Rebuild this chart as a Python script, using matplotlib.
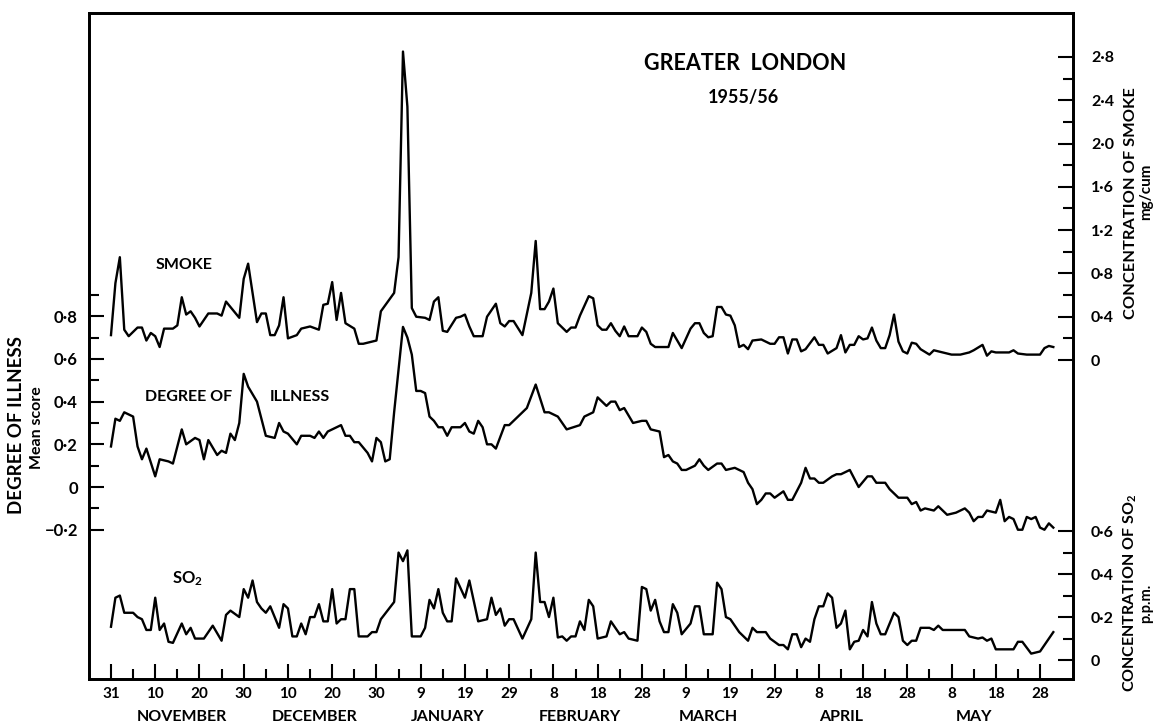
import matplotlib
matplotlib.use("Agg")
import matplotlib.pyplot as plt
from matplotlib.ticker import FixedLocator, FuncFormatter

# days counted from 31 October 1955
smoke_days = [0, 1, 2, 3, 4, 6, 7, 8, 9, 10, 11, 12, 14, 15, 16, 17, 18, 19, 20, 22,
              24, 25, 26, 29, 30, 31, 33, 34, 35, 36, 37, 38, 39, 40, 42, 43, 45, 47, 48, 49,
              50, 51, 52, 53, 55, 56, 57, 59, 60, 61, 64, 65, 66, 67, 68, 69, 71, 72, 73, 74,
              75, 76, 78, 79, 80, 81, 82, 84, 85, 87, 88, 89, 90, 91, 93, 95, 96, 97, 98, 99,
              100, 101, 103, 104, 105, 106, 108, 109, 110, 111, 112, 113, 114, 115, 116, 117, 119, 120, 121, 122,
              123, 126, 127, 129, 131, 132, 133, 134, 135, 136, 137, 138, 139, 140, 141, 142, 143, 144, 145, 147,
              149, 150, 151, 152, 153, 154, 155, 156, 157, 159, 160, 161, 162, 164, 165, 166, 167, 168, 169, 170,
              171, 172, 173, 174, 175, 176, 177, 178, 179, 180, 181, 182, 183, 185, 186, 188, 190, 192, 194, 195,
              197, 198, 199, 200, 203, 204, 205, 207, 210, 211, 212, 213]
smoke_mg = [0.23, 0.71, 0.95, 0.28, 0.22, 0.30, 0.30, 0.18, 0.25, 0.22, 0.12, 0.29, 0.29, 0.32, 0.58, 0.42, 0.45, 0.39, 0.31, 0.43,
            0.43, 0.41, 0.54, 0.39, 0.75, 0.89, 0.35, 0.43, 0.43, 0.23, 0.23, 0.32, 0.58, 0.20, 0.23, 0.29, 0.31, 0.28, 0.51, 0.52,
            0.72, 0.37, 0.62, 0.34, 0.29, 0.15, 0.15, 0.17, 0.18, 0.45, 0.62, 0.95, 2.85, 2.34, 0.48, 0.40, 0.39, 0.37, 0.54, 0.58,
            0.27, 0.26, 0.39, 0.40, 0.42, 0.31, 0.22, 0.22, 0.40, 0.52, 0.34, 0.31, 0.36, 0.36, 0.23, 0.62, 1.10, 0.47, 0.47, 0.54,
            0.66, 0.34, 0.26, 0.30, 0.30, 0.41, 0.59, 0.57, 0.32, 0.28, 0.28, 0.34, 0.27, 0.22, 0.31, 0.22, 0.22, 0.30, 0.26, 0.15,
            0.12, 0.12, 0.25, 0.11, 0.29, 0.34, 0.34, 0.25, 0.21, 0.22, 0.49, 0.49, 0.42, 0.41, 0.32, 0.12, 0.14, 0.10, 0.18, 0.19,
            0.15, 0.15, 0.21, 0.21, 0.06, 0.19, 0.19, 0.08, 0.10, 0.21, 0.14, 0.14, 0.06, 0.11, 0.23, 0.07, 0.14, 0.14, 0.22, 0.19,
            0.20, 0.30, 0.18, 0.11, 0.11, 0.23, 0.42, 0.17, 0.08, 0.06, 0.16, 0.15, 0.10, 0.05, 0.09, 0.07, 0.05, 0.05, 0.07, 0.09,
            0.14, 0.04, 0.08, 0.07, 0.07, 0.09, 0.06, 0.05, 0.05, 0.11, 0.13, 0.12]

illness_days = [0, 1, 2, 3, 4, 5, 6, 7, 8, 10, 11, 13, 14, 16, 17, 19, 20, 21, 22, 24,
                25, 26, 27, 28, 29, 30, 31, 33, 34, 35, 37, 38, 39, 40, 42, 43, 45, 46, 47, 48,
                49, 52, 53, 54, 55, 56, 58, 59, 60, 61, 62, 63, 64, 65, 66, 67, 68, 69, 70, 71,
                72, 73, 74, 75, 76, 77, 79, 80, 81, 82, 83, 84, 85, 86, 87, 89, 90, 91, 94, 96,
                98, 99, 101, 103, 106, 107, 109, 110, 112, 113, 114, 115, 116, 118, 120, 121, 122, 124, 125, 126,
                127, 128, 129, 130, 132, 133, 134, 135, 137, 138, 139, 141, 143, 144, 145, 146, 147, 148, 149, 150,
                152, 153, 154, 156, 157, 158, 159, 160, 161, 163, 164, 165, 166, 167, 169, 171, 172, 173, 175, 176,
                178, 180, 181, 182, 183, 184, 186, 187, 189, 191, 193, 194, 195, 196, 197, 198, 200, 201, 202, 203,
                204, 205, 206, 207, 208, 209, 210, 211, 212, 213]
illness_score = [0.19, 0.32, 0.31, 0.35, 0.34, 0.33, 0.19, 0.13, 0.18, 0.05, 0.13, 0.12, 0.11, 0.27, 0.20, 0.23, 0.22, 0.13, 0.22, 0.15,
                 0.17, 0.16, 0.25, 0.22, 0.30, 0.53, 0.47, 0.40, 0.32, 0.24, 0.23, 0.30, 0.26, 0.25, 0.20, 0.24, 0.24, 0.23, 0.26, 0.23,
                 0.26, 0.29, 0.24, 0.24, 0.21, 0.21, 0.16, 0.12, 0.23, 0.21, 0.12, 0.13, 0.35, 0.55, 0.75, 0.70, 0.62, 0.45, 0.45, 0.44,
                 0.33, 0.31, 0.28, 0.28, 0.24, 0.28, 0.28, 0.30, 0.26, 0.25, 0.31, 0.28, 0.20, 0.20, 0.18, 0.29, 0.29, 0.31, 0.37, 0.48,
                 0.35, 0.35, 0.33, 0.27, 0.29, 0.33, 0.35, 0.42, 0.38, 0.40, 0.40, 0.36, 0.37, 0.30, 0.31, 0.31, 0.27, 0.26, 0.14, 0.15,
                 0.12, 0.11, 0.08, 0.08, 0.10, 0.13, 0.10, 0.08, 0.11, 0.11, 0.08, 0.09, 0.07, 0.02, -0.01, -0.08, -0.06, -0.03, -0.03, -0.05,
                 -0.02, -0.06, -0.06, 0.02, 0.09, 0.04, 0.04, 0.02, 0.02, 0.05, 0.06, 0.06, 0.07, 0.08, 0.00, 0.05, 0.05, 0.02, 0.02, -0.01,
                 -0.05, -0.05, -0.08, -0.07, -0.11, -0.10, -0.11, -0.09, -0.13, -0.12, -0.10, -0.12, -0.16, -0.14, -0.14, -0.11, -0.12, -0.06, -0.16, -0.14,
                 -0.15, -0.20, -0.20, -0.14, -0.15, -0.14, -0.19, -0.20, -0.17, -0.19]

so2_days = [0, 1, 2, 3, 5, 6, 7, 8, 9, 10, 11, 12, 13, 14, 16, 17, 18, 19, 21, 23,
            25, 26, 27, 29, 30, 31, 32, 33, 34, 35, 36, 38, 39, 40, 41, 42, 43, 44, 45, 46,
            47, 48, 49, 50, 51, 52, 53, 54, 55, 56, 58, 59, 60, 61, 64, 65, 66, 67, 68, 70,
            71, 72, 73, 74, 75, 76, 77, 78, 80, 81, 83, 85, 86, 87, 88, 89, 90, 91, 93, 95,
            96, 97, 98, 99, 100, 101, 102, 103, 104, 105, 106, 107, 108, 109, 110, 112, 113, 115, 116, 117,
            119, 120, 121, 122, 123, 124, 125, 126, 127, 128, 129, 131, 132, 133, 134, 136, 137, 138, 139, 140,
            142, 144, 145, 146, 148, 149, 151, 152, 153, 154, 155, 156, 157, 158, 159, 160, 161, 162, 163, 164,
            165, 166, 167, 168, 169, 170, 171, 172, 173, 174, 175, 177, 178, 179, 180, 181, 182, 183, 184, 185,
            186, 187, 188, 190, 191, 193, 194, 196, 197, 198, 199, 200, 204, 205, 206, 208, 210, 213]
so2_ppm = [0.155, 0.29, 0.30, 0.22, 0.22, 0.20, 0.19, 0.14, 0.14, 0.29, 0.14, 0.17, 0.085, 0.08, 0.17, 0.12, 0.15, 0.10, 0.10, 0.16,
           0.09, 0.21, 0.23, 0.20, 0.33, 0.29, 0.37, 0.27, 0.24, 0.22, 0.25, 0.15, 0.26, 0.24, 0.11, 0.11, 0.17, 0.12, 0.20, 0.20,
           0.26, 0.18, 0.18, 0.33, 0.17, 0.19, 0.19, 0.33, 0.33, 0.11, 0.11, 0.13, 0.13, 0.19, 0.27, 0.50, 0.46, 0.51, 0.11, 0.11,
           0.15, 0.28, 0.24, 0.33, 0.22, 0.18, 0.18, 0.38, 0.29, 0.37, 0.18, 0.19, 0.29, 0.21, 0.24, 0.16, 0.19, 0.19, 0.10, 0.19,
           0.50, 0.27, 0.27, 0.20, 0.29, 0.105, 0.11, 0.09, 0.11, 0.11, 0.18, 0.14, 0.28, 0.25, 0.10, 0.11, 0.18, 0.12, 0.13, 0.10,
           0.09, 0.34, 0.33, 0.23, 0.28, 0.18, 0.13, 0.13, 0.26, 0.22, 0.12, 0.17, 0.25, 0.25, 0.12, 0.12, 0.36, 0.33, 0.20, 0.19,
           0.13, 0.09, 0.15, 0.13, 0.13, 0.10, 0.07, 0.07, 0.05, 0.12, 0.12, 0.06, 0.10, 0.085, 0.19, 0.25, 0.25, 0.31, 0.29, 0.15,
           0.17, 0.23, 0.05, 0.085, 0.09, 0.14, 0.11, 0.27, 0.17, 0.12, 0.12, 0.22, 0.20, 0.09, 0.07, 0.09, 0.09, 0.15, 0.15, 0.15,
           0.14, 0.16, 0.14, 0.14, 0.14, 0.14, 0.11, 0.10, 0.105, 0.09, 0.10, 0.05, 0.05, 0.085, 0.085, 0.03, 0.04, 0.13]

day_ticks = list(range(0, 211, 10))
day_labels = ["31", "10", "20", "30", "10", "20", "30", "9", "19", "29", "8", "18",
              "28", "9", "19", "29", "8", "18", "28", "8", "18", "28"]
months = ["NOVEMBER", "DECEMBER", "JANUARY", "FEBRUARY", "MARCH", "APRIL", "MAY"]
month_days = [16, 46, 76, 106, 135, 165, 195]

illness_ticks = [-0.2, 0, 0.2, 0.4, 0.6, 0.8]
smoke_ticks = [0, 0.4, 0.8, 1.2, 1.6, 2.0, 2.4, 2.8]
so2_ticks = [0, 0.2, 0.4, 0.6]

plt.rcParams['font.family'] = ['Lato', 'DejaVu Sans']
plt.rcParams['font.weight'] = 'bold'
plt.rcParams['mathtext.fontset'] = 'custom'
plt.rcParams['mathtext.rm'] = 'Lato:bold'
plt.rcParams['mathtext.default'] = 'rm'


def dotted(v, pos=None):
    # old style decimals: 0·4, −0·2
    if abs(v) < 1e-9:
        return "0"
    s = ("%.1f" % abs(v)).replace(".", "\u00b7")
    return ("\u2212" + s) if v < 0 else s


W, H = 1154, 724
L, R, T, B = 89, 1073, 13, 679
fig = plt.figure(figsize=(W / 100, H / 100), dpi=100)
fig.patch.set_facecolor('white')

ax = fig.add_axes([L / W, 1 - B / H, (R - L) / W, (B - T) / H])
ax_smoke = ax.twinx()
ax_so2 = ax.twinx()

lw = 1.7
ax.plot(illness_days, illness_score, color='black', lw=lw)
ax_smoke.plot(smoke_days, smoke_mg, color='black', lw=lw)
ax_so2.plot(so2_days, so2_ppm, color='black', lw=lw)

ax.set_xlim(-4.97, 217.45)
ax.set_ylim(-0.899, 2.220)
ax_smoke.set_ylim(-2.947, 3.206)
ax_so2.set_ylim(-0.088, 3.009)

for a in (ax, ax_smoke, ax_so2):
    for sp in a.spines.values():
        sp.set_linewidth(1.8)

# bottom axis: days
ax.xaxis.set_major_locator(FixedLocator(day_ticks))
ax.xaxis.set_minor_locator(FixedLocator([d + 5 for d in day_ticks[:-1]]))
ax.set_xticklabels(day_labels)
ax.tick_params(axis='x', which='both', direction='in', width=1.5, pad=6, labelsize=11)
ax.tick_params(axis='x', which='major', length=11)
ax.tick_params(axis='x', which='minor', length=7)
for d, m in zip(month_days, months):
    ax.text(d, -0.057, m, transform=ax.get_xaxis_transform(), ha='center', va='center', fontsize=11.5)

# left axis: degree of illness
ax.yaxis.set_major_locator(FixedLocator(illness_ticks))
ax.yaxis.set_minor_locator(FixedLocator([-0.1, 0.1, 0.3, 0.5, 0.7, 0.9]))
ax.yaxis.set_major_formatter(FuncFormatter(dotted))
ax.tick_params(axis='y', which='both', direction='in', width=1.5, pad=8, labelsize=12)
ax.tick_params(axis='y', which='major', length=11)
ax.tick_params(axis='y', which='minor', length=7)

# right axis: smoke and SO2 share the spine
ax_smoke.yaxis.set_major_locator(FixedLocator(smoke_ticks))
ax_smoke.yaxis.set_minor_locator(FixedLocator([0.2, 0.6, 1.0, 1.4, 1.8, 2.2, 2.6]))
ax_smoke.yaxis.set_major_formatter(FuncFormatter(dotted))
ax_so2.yaxis.set_major_locator(FixedLocator(so2_ticks))
ax_so2.yaxis.set_minor_locator(FixedLocator([0.1, 0.3, 0.5]))
ax_so2.yaxis.set_major_formatter(FuncFormatter(dotted))
for a in (ax_smoke, ax_so2):
    a.tick_params(axis='y', which='both', direction='in', width=1.5, pad=13, labelsize=11.5)
    a.tick_params(axis='y', which='major', length=11)
    a.tick_params(axis='y', which='minor', length=7)


def px(x, y):
    return x / W, 1 - y / H


fig.text(*px(745, 63), "GREATER  LONDON", ha='center', va='center', fontsize=15.5)
fig.text(*px(743, 97), "1955/56", ha='center', va='center', fontsize=13)
fig.text(*px(184, 265), "SMOKE", ha='center', va='center', fontsize=11.5)
fig.text(*px(189, 397), "DEGREE OF", ha='center', va='center', fontsize=11.5)
fig.text(*px(300, 397), "ILLNESS", ha='center', va='center', fontsize=11.5)
fig.text(*px(187, 579), "SO$_2$", ha='center', va='center', fontsize=12)

fig.text(*px(17, 425), "DEGREE OF ILLNESS", rotation=90, ha='center', va='center', fontsize=13.5)
fig.text(*px(37, 428), "Mean score", rotation=90, ha='center', va='center', fontsize=11.5)
fig.text(*px(1131, 203), "CONCENTRATION OF SMOKE", rotation=90, ha='center', va='center', fontsize=11.8)
fig.text(*px(1146, 192), "mg/cum", rotation=90, ha='center', va='center', fontsize=11)
fig.text(*px(1130, 593), "CONCENTRATION OF SO$_2$", rotation=90, ha='center', va='center', fontsize=11.5)
fig.text(*px(1146, 603), "p.p.m.", rotation=90, ha='center', va='center', fontsize=10.5)

fig.savefig("out.png", dpi=100)
